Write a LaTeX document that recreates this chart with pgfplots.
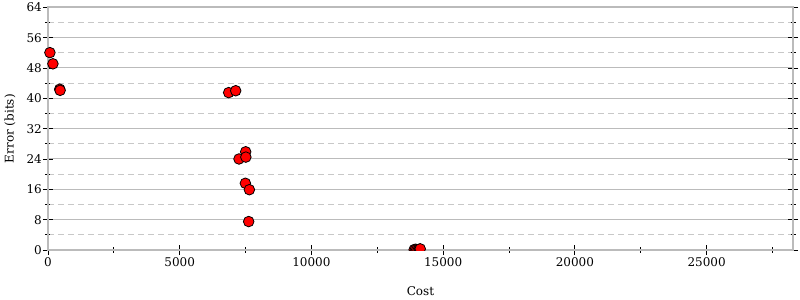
\documentclass[border=0pt]{standalone}
\usepackage{fontspec}
\setmainfont{DejaVu Serif}
\usepackage{pgfplots}
\pgfplotsset{compat=1.18}
\definecolor{gridmaj}{HTML}{BBBBBB}
\definecolor{gridmin}{HTML}{C8C8C8}
\definecolor{axcol}{HTML}{A0A0A0}
\definecolor{axleft}{HTML}{BBBBBB}
\begin{document}
\fontsize{12bp}{14.4bp}\selectfont
\begin{tikzpicture}
\useasboundingbox (-48bp,-50bp) rectangle (752bp,250bp);
\begin{axis}[
  scale only axis,
  width=745bp, height=242.7bp,
  xmin=0, xmax=28280, ymin=0, ymax=64,
  /pgf/number format/assume math mode=true,
  xtick={0,5000,10000,15000,20000,25000},
  minor xtick={2500,7500,12500,17500,22500,27500},
  ytick={0,8,16,24,32,40,48,56,64},
  minor ytick={4,12,20,28,36,44,52,60},
  scaled x ticks=false,
  xticklabel style={/pgf/number format/1000 sep={}, yshift=2bp},
  yticklabel style={anchor=east, xshift=3bp},
  yticklabel={\pgfmathprintnumber{\tick}},
  xtick pos=bottom, ytick pos=both,
  tick align=center,
  major tick length=10bp, minor tick length=5bp,
  every tick/.style={black, line width=0.8bp},
  ymajorgrids, yminorgrids,
  major grid style={gridmaj, line width=1bp},
  minor grid style={gridmin, line width=1bp, dash pattern=on 6bp off 4bp},
  axis line style={axcol, line width=2bp},
  y axis line style={axleft},
  xlabel={Cost}, ylabel={Error (bits)},
  x label style={at={(axis description cs:0.5,0)}, anchor=center, yshift=-41bp},
  y label style={at={(axis description cs:-0.051,0.5)}, anchor=center},
  clip mode=individual,
]
\addplot[only marks, mark=*, mark size=5.3bp, mark options={fill=red, draw=black, line width=0.8bp}] coordinates {
(72,52.05) (187,49.1) (445,42.4) (460,42.1)
(6858,41.5) (7125,42.0)
(7250,24.0) (7504,25.9) (7510,24.5)
(7492,17.6) (7644,15.9) (7618,7.5)
};
\addplot[only marks, mark=*, mark size=5.3bp, clip marker paths=true, mark options={fill=red, draw=black, line width=0.8bp}] coordinates {
(13900,0.1) (13950,0.2) (14000,0.1) (14050,0.0) (14100,0.2) (14130,0.3)
};
\end{axis}
\end{tikzpicture}
\end{document}
